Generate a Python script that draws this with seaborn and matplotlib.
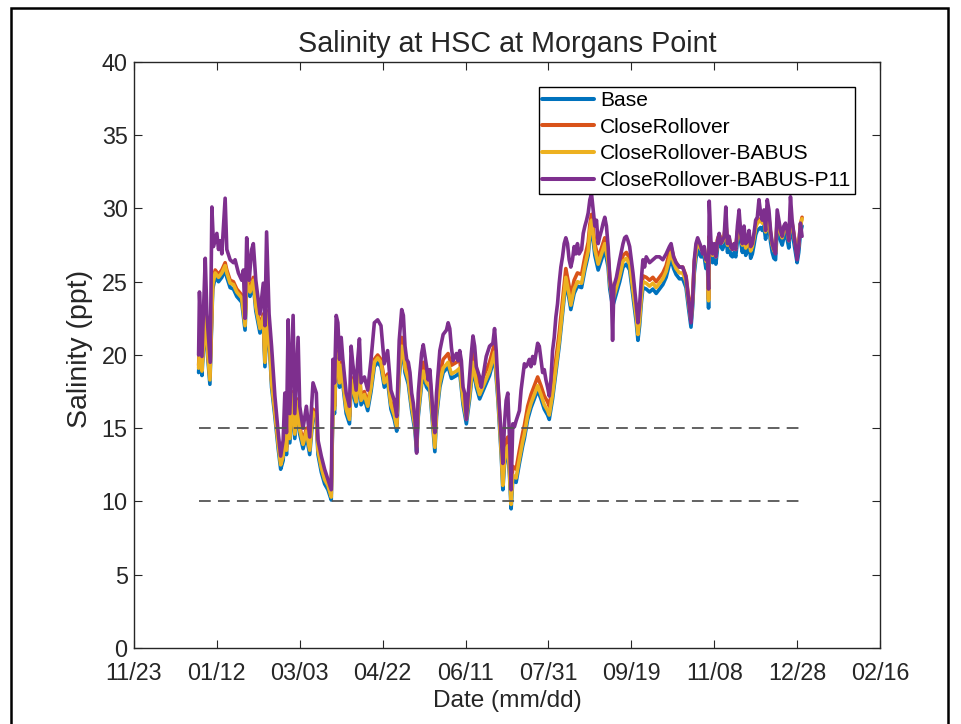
import pandas as pd
import matplotlib
matplotlib.use("Agg")
import matplotlib.pyplot as plt
import matplotlib.dates as mdates
from matplotlib.lines import Line2D
from matplotlib.patches import Rectangle
from matplotlib import font_manager
import seaborn as sns

# Day-of-year (0 = Jan 1) and salinity (ppt) for each scenario
base_pts = [
    (0, 18.8), (1, 21.0), (2, 18.6), (4, 22.8), (5, 20.5), (6.8, 18.0), (8.5, 24.5), (10, 25.3),
    (12, 25.0), (14, 25.3), (16, 25.8), (17, 25.3), (19, 24.6), (21, 24.5), (23, 24.0), (26, 23.6),
    (28, 21.7), (29, 24.7), (31, 24.0), (33, 24.8), (34.5, 23.0), (37, 21.5), (39, 22.3), (40, 19.2),
    (41.5, 22.5), (43, 20.0), (44, 17.8), (46, 15.8), (48, 13.6), (49.5, 12.2), (51, 12.8), (52, 14.8),
    (53, 13.2), (54, 16.5), (55, 14.0), (57, 17.0), (58, 14.3), (60, 16.5), (61, 14.6), (63, 13.6),
    (65, 14.5), (67, 13.2), (69, 15.8), (71, 15.5), (72, 13.2), (74, 12.0), (76, 11.2), (78, 10.8),
    (80, 10.1), (81, 16.5), (82, 16.0), (83, 19.8), (84, 19.6), (85, 17.8), (86, 19.0), (87, 18.0),
    (89, 16.0), (91, 15.3), (92, 18.0), (93, 17.5), (95, 16.5), (96, 17.5), (97, 18.5), (98, 16.6),
    (100, 17.0), (102, 16.2), (104, 17.5), (106, 19.2), (108, 19.5), (110, 19.2), (112, 17.8), (114, 18.2),
    (116, 16.3), (118, 15.6), (119.5, 14.8), (121, 18.5), (122.5, 20.3), (123.5, 20.0), (124.5, 18.8), (126.5, 18.0),
    (128.5, 16.2), (130.5, 14.8), (131.5, 13.4), (132.5, 15.8), (134.5, 18.0), (135.5, 18.6), (137.5, 17.8), (139.5, 17.5),
    (141.5, 14.8), (142.5, 13.4), (143.5, 15.8), (145.5, 17.8), (147.5, 18.8), (150.5, 19.2), (152.5, 18.4), (155.5, 18.6),
    (157.5, 18.8), (159.5, 16.6), (161.5, 15.3), (163.5, 17.0), (165.5, 19.2), (167.5, 17.8), (169.5, 17.0), (172.5, 17.8),
    (175.5, 18.6), (178.5, 19.9), (180.5, 17.0), (182.5, 13.2), (183.5, 10.8), (184.5, 12.5), (185.5, 13.3), (186.5, 13.5),
    (187.5, 11.8), (188.5, 9.5), (189.5, 11.5), (191.5, 11.3), (193.5, 12.6), (195.5, 13.8), (196.5, 14.3), (198.5, 15.6),
    (200.5, 16.4), (202.5, 17.0), (204.5, 17.6), (206.5, 17.0), (208.5, 16.3), (210.5, 15.9), (211.5, 15.6), (213.5, 17.0),
    (215.5, 18.8), (217.5, 20.6), (219.5, 22.8), (221.5, 25.0), (223.5, 23.8), (224.5, 23.1), (226.5, 24.2), (228.5, 24.7),
    (231, 24.6), (233, 25.8), (235, 26.8), (236, 28.1), (237, 28.8), (239, 26.8), (241, 25.8), (243, 26.5),
    (245, 27.2), (247, 26.0), (248, 24.5), (249.7, 23.3), (250.5, 23.6), (252, 24.2), (254, 25.0), (256, 26.0),
    (258, 26.2), (260, 25.8), (262, 24.0), (264, 22.2), (265, 21.0), (266, 22.0), (267, 23.5), (268, 24.6),
    (270, 24.5), (272, 24.3), (274, 24.5), (276, 24.2), (278, 24.5), (280, 24.8), (282, 25.3), (284, 26.2),
    (285, 26.6), (286.5, 25.9), (288, 25.5), (290, 25.2), (292, 25.2), (294, 24.6), (295.5, 23.2), (297, 21.9),
    (298, 23.3), (299, 25.6), (300, 26.6), (301, 27.2), (303, 26.7), (305, 26.7), (306, 25.9), (307, 26.0),
    (307.6, 23.2), (308, 27.5), (309, 27.0), (310, 26.3), (311, 26.8), (312, 26.2), (313, 27.3), (314, 27.6),
    (316, 27.2), (317, 27.5), (318, 28.5), (319, 27.0), (320, 27.4), (321, 26.8), (322, 26.7), (323, 27.0),
    (324, 26.7), (325, 27.8), (326, 28.6), (327, 27.7), (328, 27.0), (329, 27.9), (330, 26.8), (331, 27.1),
    (332, 27.6), (333, 26.6), (334, 26.9), (335, 27.5), (336, 28.2), (337, 28.5), (338, 28.6), (339, 28.7),
    (340, 28.5), (341, 28.8), (342, 27.9), (343, 28.8), (344, 28.8), (345, 27.7), (346, 27.0), (347, 26.6),
    (348, 26.5), (349, 28.7), (350, 28.4), (351, 27.8), (352, 27.5), (353, 28.0), (354, 28.3), (355, 27.9),
    (356, 27.3), (357, 28.8), (358, 28.4), (359, 27.7), (360, 27.0), (361, 26.3), (362, 27.0), (363, 28.3),
    (364, 28.8),
]

rollover_pts = [
    (0, 19.3), (1, 21.5), (2, 19.1), (4, 23.3), (5, 21.0), (6.8, 18.5), (8.5, 25.0), (10, 25.8),
    (12, 25.5), (14, 25.8), (16, 26.3), (17, 25.8), (19, 25.1), (21, 25.0), (23, 24.5), (26, 24.1),
    (28, 22.2), (29, 25.2), (31, 24.5), (33, 25.3), (34.5, 23.5), (37, 22.0), (39, 22.8), (40, 19.7),
    (41.5, 23.0), (43, 20.5), (44, 18.3), (46, 16.3), (48, 14.1), (49.5, 12.7), (51, 13.3), (52, 15.3),
    (53, 13.7), (54, 17.0), (55, 14.5), (57, 17.5), (58, 14.8), (60, 17.0), (61, 15.1), (63, 14.1),
    (65, 15.0), (67, 13.7), (69, 16.3), (71, 16.0), (72, 13.7), (74, 12.5), (76, 11.7), (78, 11.3),
    (80, 10.5), (81, 17.0), (82, 16.5), (83, 20.3), (84, 20.1), (85, 18.3), (86, 19.5), (87, 18.5),
    (89, 16.5), (91, 15.8), (92, 18.5), (93, 18.0), (95, 17.0), (96, 18.0), (97, 19.0), (98, 17.1),
    (100, 17.5), (102, 16.7), (104, 18.0), (106, 19.7), (108, 20.0), (110, 19.7), (112, 18.3), (114, 18.7),
    (116, 16.8), (118, 16.1), (119.5, 15.3), (121, 19.4), (122.5, 21.2), (123.5, 20.9), (124.5, 19.7), (126.5, 18.9),
    (128.5, 17.1), (130.5, 15.7), (131.5, 14.3), (132.5, 16.7), (134.5, 18.9), (135.5, 19.5), (137.5, 18.7), (139.5, 18.4),
    (141.5, 15.7), (142.5, 14.3), (143.5, 16.7), (145.5, 18.7), (147.5, 19.7), (150.5, 20.1), (152.5, 19.3), (155.5, 19.5),
    (157.5, 19.7), (159.5, 17.5), (161.5, 16.2), (163.5, 17.9), (165.5, 20.1), (167.5, 18.7), (169.5, 17.9), (172.5, 18.7),
    (175.5, 19.5), (178.5, 20.8), (180.5, 17.9), (182.5, 14.1), (183.5, 11.7), (184.5, 13.4), (185.5, 14.2), (186.5, 14.4),
    (187.5, 12.7), (188.5, 10.4), (189.5, 12.4), (191.5, 12.2), (193.5, 13.5), (195.5, 14.7), (196.5, 15.2), (198.5, 16.5),
    (200.5, 17.3), (202.5, 17.9), (204.5, 18.5), (206.5, 17.9), (208.5, 17.2), (210.5, 16.8), (211.5, 16.5), (213.5, 17.9),
    (215.5, 19.7), (217.5, 21.5), (219.5, 23.7), (221.5, 25.9), (223.5, 24.7), (224.5, 24.0), (226.5, 25.1), (228.5, 25.6),
    (231, 25.5), (233, 26.7), (235, 27.7), (236, 28.9), (237, 29.6), (239, 27.6), (241, 26.6), (243, 27.3),
    (245, 28.0), (247, 26.8), (248, 25.3), (249.7, 24.1), (250.5, 24.4), (252, 25.0), (254, 25.8), (256, 26.8),
    (258, 27.0), (260, 26.6), (262, 24.8), (264, 23.0), (265, 21.8), (266, 22.8), (267, 24.3), (268, 25.4),
    (270, 25.3), (272, 25.1), (274, 25.3), (276, 25.0), (278, 25.3), (280, 25.6), (282, 26.1), (284, 27.0),
    (285, 27.4), (286.5, 26.7), (288, 26.3), (290, 26.0), (292, 26.0), (294, 25.4), (295.5, 24.0), (297, 22.7),
    (298, 24.1), (299, 26.4), (300, 27.2), (301, 27.8), (303, 27.3), (305, 27.3), (306, 26.5), (307, 26.6),
    (307.6, 23.8), (308, 28.1), (309, 27.6), (310, 26.9), (311, 27.4), (312, 26.8), (313, 27.9), (314, 28.2),
    (316, 27.8), (317, 28.1), (318, 29.1), (319, 27.6), (320, 28.0), (321, 27.4), (322, 27.3), (323, 27.6),
    (324, 27.3), (325, 28.4), (326, 29.2), (327, 28.3), (328, 27.6), (329, 28.5), (330, 27.4), (331, 27.7),
    (332, 28.2), (333, 27.2), (334, 27.5), (335, 28.1), (336, 28.8), (337, 29.1), (338, 29.2), (339, 29.3),
    (340, 29.1), (341, 29.4), (342, 28.5), (343, 29.4), (344, 29.4), (345, 28.3), (346, 27.6), (347, 27.2),
    (348, 27.1), (349, 29.3), (350, 29.0), (351, 28.4), (352, 28.1), (353, 28.6), (354, 28.9), (355, 28.5),
    (356, 27.9), (357, 29.4), (358, 29.0), (359, 28.3), (360, 27.6), (361, 26.9), (362, 27.6), (363, 28.9),
    (364, 29.4),
]

babus_pts = [
    (0, 19.1), (1, 21.3), (2, 18.9), (4, 23.1), (5, 20.8), (6.8, 18.3), (8.5, 24.8), (10, 25.6),
    (12, 25.3), (14, 25.6), (16, 26.1), (17, 25.6), (19, 24.9), (21, 24.8), (23, 24.3), (26, 23.9),
    (28, 22.0), (29, 25.0), (31, 24.3), (33, 25.1), (34.5, 23.3), (37, 21.8), (39, 22.6), (40, 19.5),
    (41.5, 22.8), (43, 20.3), (44, 18.1), (46, 16.1), (48, 13.9), (49.5, 12.5), (51, 13.1), (52, 15.1),
    (53, 13.5), (54, 16.8), (55, 14.3), (57, 17.3), (58, 14.6), (60, 16.8), (61, 14.9), (63, 13.9),
    (65, 14.8), (67, 13.5), (69, 16.1), (71, 15.8), (72, 13.5), (74, 12.3), (76, 11.5), (78, 11.1),
    (80, 10.3), (81, 16.8), (82, 16.3), (83, 20.1), (84, 19.9), (85, 18.1), (86, 19.3), (87, 18.3),
    (89, 16.3), (91, 15.6), (92, 18.3), (93, 17.8), (95, 16.8), (96, 17.8), (97, 18.8), (98, 16.9),
    (100, 17.3), (102, 16.5), (104, 17.8), (106, 19.5), (108, 19.8), (110, 19.5), (112, 18.1), (114, 18.5),
    (116, 16.6), (118, 15.9), (119.5, 15.1), (121, 18.8), (122.5, 20.6), (123.5, 20.3), (124.5, 19.1), (126.5, 18.3),
    (128.5, 16.5), (130.5, 15.1), (131.5, 13.7), (132.5, 16.1), (134.5, 18.3), (135.5, 18.9), (137.5, 18.1), (139.5, 17.8),
    (141.5, 15.1), (142.5, 13.7), (143.5, 16.1), (145.5, 18.1), (147.5, 19.1), (150.5, 19.5), (152.5, 18.7), (155.5, 18.9),
    (157.5, 19.1), (159.5, 16.9), (161.5, 15.6), (163.5, 17.3), (165.5, 19.5), (167.5, 18.1), (169.5, 17.3), (172.5, 18.1),
    (175.5, 18.9), (178.5, 20.2), (180.5, 17.3), (182.5, 13.5), (183.5, 11.1), (184.5, 12.8), (185.5, 13.6), (186.5, 13.8),
    (187.5, 12.1), (188.5, 9.8), (189.5, 11.8), (191.5, 11.6), (193.5, 12.9), (195.5, 14.1), (196.5, 14.6), (198.5, 15.9),
    (200.5, 16.7), (202.5, 17.3), (204.5, 17.9), (206.5, 17.3), (208.5, 16.6), (210.5, 16.2), (211.5, 15.9), (213.5, 17.3),
    (215.5, 19.1), (217.5, 20.9), (219.5, 23.1), (221.5, 25.3), (223.5, 24.1), (224.5, 23.4), (226.5, 24.5), (228.5, 25.0),
    (231, 24.9), (233, 26.1), (235, 27.1), (236, 28.5), (237, 29.2), (239, 27.2), (241, 26.2), (243, 26.9),
    (245, 27.6), (247, 26.4), (248, 24.9), (249.7, 23.7), (250.5, 24.0), (252, 24.6), (254, 25.4), (256, 26.4),
    (258, 26.6), (260, 26.2), (262, 24.4), (264, 22.6), (265, 21.4), (266, 22.4), (267, 23.9), (268, 25.0),
    (270, 24.9), (272, 24.7), (274, 24.9), (276, 24.6), (278, 24.9), (280, 25.2), (282, 25.7), (284, 26.6),
    (285, 27.0), (286.5, 26.3), (288, 25.9), (290, 25.6), (292, 25.6), (294, 25.0), (295.5, 23.6), (297, 22.3),
    (298, 23.7), (299, 26.0), (300, 27.1), (301, 27.7), (303, 27.2), (305, 27.2), (306, 26.4), (307, 26.5),
    (307.6, 23.7), (308, 28.0), (309, 27.5), (310, 26.8), (311, 27.3), (312, 26.7), (313, 27.8), (314, 28.1),
    (316, 27.7), (317, 28.0), (318, 29.0), (319, 27.5), (320, 27.9), (321, 27.3), (322, 27.2), (323, 27.5),
    (324, 27.2), (325, 28.3), (326, 29.1), (327, 28.2), (328, 27.5), (329, 28.4), (330, 27.3), (331, 27.6),
    (332, 28.1), (333, 27.1), (334, 27.4), (335, 28.0), (336, 28.7), (337, 29.0), (338, 29.1), (339, 29.2),
    (340, 29.0), (341, 29.3), (342, 28.4), (343, 29.3), (344, 29.3), (345, 28.2), (346, 27.5), (347, 27.1),
    (348, 27.0), (349, 29.2), (350, 28.9), (351, 28.3), (352, 28.0), (353, 28.5), (354, 28.8), (355, 28.4),
    (356, 27.8), (357, 29.3), (358, 28.9), (359, 28.2), (360, 27.5), (361, 26.8), (362, 27.5), (363, 28.8),
    (364, 29.3),
]

p11_pts = [
    (0, 20.0), (0.5, 24.3), (2, 19.9), (4, 26.6), (5, 22.8), (7, 19.5), (8, 30.1), (9, 27.4),
    (11, 28.3), (12, 27.2), (13, 27.8), (14, 26.9), (16, 30.7), (17, 27.2), (19, 26.5), (21, 26.3),
    (22, 26.5), (24, 25.6), (26, 25.1), (27, 25.8), (28, 22.5), (29, 28.0), (30.5, 25.1), (32, 27.2),
    (33, 27.6), (34.5, 25.1), (37, 22.8), (39, 24.9), (40, 22.0), (41, 28.4), (42.5, 22.8), (44, 20.6),
    (46, 17.2), (48, 14.7), (49.5, 13.1), (51, 14.2), (52, 17.4), (53, 14.7), (54, 22.4), (55, 16.0),
    (57, 22.7), (58, 16.0), (60, 21.2), (61, 16.5), (63, 15.0), (65, 16.5), (67, 14.4), (69, 18.1),
    (71, 17.4), (72, 14.2), (74, 13.1), (76, 12.2), (78, 11.5), (80, 10.8), (81, 19.7), (82, 18.1),
    (83, 22.7), (84, 22.2), (85, 19.7), (86, 21.2), (87, 19.7), (89, 17.4), (91, 16.5), (92, 20.6),
    (93, 19.4), (95, 17.6), (96, 19.7), (97, 21.1), (98, 18.1), (100, 18.5), (102, 17.6), (104, 19.7),
    (106, 22.2), (108, 22.4), (110, 22.0), (112, 19.4), (114, 20.3), (116, 17.6), (118, 16.9), (119.5, 15.8),
    (121, 21.0), (122.5, 23.1), (123.5, 22.7), (124.5, 20.6), (125.5, 19.7), (126.5, 19.5), (127.5, 18.8), (128.5, 17.4),
    (129.5, 16.7), (130.5, 15.6), (131.5, 13.3), (132.5, 17.4), (133.5, 18.8), (134.5, 20.1), (135.5, 20.7), (137.5, 19.2),
    (138.5, 18.3), (139.5, 19.0), (140.5, 17.4), (141.5, 15.6), (142.5, 14.7), (143.5, 17.4), (145.5, 20.3), (147.5, 21.4),
    (149.5, 21.7), (150.5, 22.2), (151.5, 21.8), (152.5, 20.5), (153.5, 19.6), (155.5, 20.1), (156.5, 19.6), (157.5, 20.3),
    (158.5, 19.6), (159.5, 17.8), (160.5, 17.4), (161.5, 15.6), (163.5, 18.6), (164.5, 20.1), (165.5, 21.3), (166.5, 20.6),
    (167.5, 19.2), (169.5, 18.5), (170.5, 17.8), (172.5, 19.2), (173.5, 19.9), (175.5, 20.6), (177.5, 20.8), (178.5, 21.8),
    (179.5, 20.3), (180.5, 18.1), (181.5, 16.2), (182.5, 14.4), (183.5, 12.6), (184.5, 15.3), (185.5, 16.9), (186.5, 17.4),
    (187.5, 14.4), (188.5, 10.8), (189.5, 15.3), (190.5, 15.1), (191.5, 15.5), (193.5, 16.2), (194.5, 17.6), (195.5, 18.5),
    (196.5, 19.4), (197.5, 19.2), (198.5, 19.4), (199.5, 19.7), (200.5, 19.2), (201.5, 19.9), (202.5, 19.4), (203.5, 20.1),
    (204.5, 20.8), (205.5, 20.6), (206.5, 19.7), (207.5, 18.8), (208.5, 19.0), (209.5, 18.3), (210.5, 17.8), (211.5, 17.2),
    (212.5, 18.3), (213.5, 20.3), (214.5, 21.2), (215.5, 22.6), (216.5, 23.5), (217.5, 24.9), (218.5, 26.0), (219.5, 26.7),
    (220.5, 27.6), (221.5, 28.0), (222.5, 27.6), (223.5, 26.5), (224.5, 26.0), (225.5, 26.5), (226.5, 27.4), (227.5, 26.9),
    (228.5, 27.6), (229.5, 26.9), (231, 27.2), (232, 28.3), (233, 28.8), (234, 29.2), (235, 29.7), (236, 30.6),
    (237, 31.0), (238, 29.9), (239, 28.8), (240, 29.2), (241, 27.6), (242, 28.1), (243, 28.5), (244, 29.0),
    (245, 29.4), (246, 28.8), (247, 27.4), (248, 25.3), (249, 24.2), (249.7, 21.0), (250.5, 24.7), (252, 25.3),
    (254, 26.5), (256, 27.6), (257, 28.0), (258, 28.1), (259, 27.8), (260, 27.4), (261, 26.5), (262, 25.6),
    (263, 24.5), (264, 23.4), (265, 22.2), (266, 23.4), (267, 25.1), (268, 26.5), (269, 26.0), (270, 26.7),
    (272, 26.3), (274, 26.5), (276, 26.7), (278, 26.7), (280, 26.5), (282, 26.9), (284, 27.4), (285, 27.6),
    (286.5, 26.7), (288, 26.3), (290, 26.0), (292, 26.0), (294, 25.3), (295.5, 23.8), (297, 22.2), (298, 23.8),
    (299, 26.5), (300, 27.6), (301, 28.0), (303, 27.4), (304, 26.9), (305, 27.4), (306, 26.5), (307, 26.7),
    (307.6, 24.5), (308, 30.5), (309, 27.8), (310, 26.9), (311, 27.6), (312, 26.7), (313, 27.8), (314, 28.3),
    (315, 27.6), (316, 27.8), (317, 28.1), (318, 30.1), (319, 27.6), (320, 28.1), (321, 27.4), (322, 27.2),
    (323, 27.6), (324, 27.2), (325, 28.8), (326, 29.9), (327, 28.3), (328, 27.6), (329, 28.8), (330, 27.6),
    (331, 27.8), (332, 28.5), (333, 27.4), (334, 27.6), (335, 28.3), (336, 29.2), (337, 29.4), (338, 30.6),
    (339, 29.7), (340, 29.2), (341, 29.9), (342, 28.5), (343, 30.6), (344, 29.9), (345, 28.5), (346, 27.6),
    (347, 27.2), (348, 26.9), (349, 29.9), (350, 29.2), (351, 28.5), (352, 28.1), (353, 28.8), (354, 29.0),
    (355, 28.5), (356, 27.8), (357, 30.8), (358, 29.2), (359, 28.3), (360, 27.4), (361, 26.5), (362, 27.4),
    (363, 29.0), (364, 28.1),
]

series_names = ["Base", "CloseRollover", "CloseRollover-BABUS", "CloseRollover-BABUS-P11"]
series_colors = ["#0072BD", "#D95319", "#EDB120", "#7E2F8E"]
threshold_levels = [15, 10]
year_start = pd.Timestamp("2017-01-01")
x_first_tick = pd.Timestamp("2016-11-23")
y_ticks = [0, 5, 10, 15, 20, 25, 30, 35, 40]

# long-form table for seaborn
records = []
for name, pts in zip(series_names, [base_pts, rollover_pts, babus_pts, p11_pts]):
    for day, val in pts:
        records.append({"date": year_start + pd.Timedelta(days=day), "salinity": val, "scenario": name})
df = pd.DataFrame(records)

sns.set_theme(style="ticks")
names = {f.name for f in font_manager.fontManager.ttflist}
font = "Liberation Sans" if "Liberation Sans" in names else "DejaVu Sans"
plt.rcParams["font.family"] = [font, "DejaVu Sans"]

ink = "#262626"
fig = plt.figure(figsize=(9.61, 7.24), dpi=100)
ax = fig.add_axes([0.1394, 0.105, 0.7763, 0.8094])

sns.lineplot(data=df, x="date", y="salinity", hue="scenario", hue_order=series_names,
             palette=dict(zip(series_names, series_colors)), estimator=None, sort=False,
             linewidth=2.6, legend=False, ax=ax)

d0 = df["date"].min()
d1 = df["date"].max()
ax.hlines(threshold_levels, d0, d1, colors="#555555", linewidth=1.3,
          linestyles=(0, (6.5, 4)), zorder=3)

x_ticks = pd.date_range(x_first_tick, periods=10, freq="50D")
ax.set_xticks(x_ticks)
ax.xaxis.set_major_formatter(mdates.DateFormatter("%m/%d"))
ax.set_xlim(x_ticks[0], x_ticks[-1])
ax.set_ylim(0, 40)
ax.set_yticks(y_ticks)

ax.tick_params(direction="in", length=5.5, width=0.8, top=True, right=True,
               labelsize=16.8, colors=ink)
ax.tick_params(axis="x", pad=10)
ax.tick_params(axis="y", pad=4.5)
for side in ["left", "right", "top", "bottom"]:
    ax.spines[side].set_visible(True)
    ax.spines[side].set_color(ink)
    ax.spines[side].set_linewidth(1.0)

ax.set_xlabel("Date (mm/dd)", fontsize=17.6, color=ink, labelpad=3.5)
ax.set_ylabel("Salinity (ppt)", fontsize=20.5, color=ink)
ax.yaxis.set_label_coords(-0.055, 0.51)
ax.set_title("Salinity at HSC at Morgans Point", fontsize=20.7, color=ink, pad=7)

handles = [Line2D([0], [0], color=c, linewidth=2.9) for c in series_colors]
leg = ax.legend(handles, series_names, loc="upper right", bbox_to_anchor=(0.9665, 0.957),
                borderaxespad=0, fontsize=15.1, frameon=True, fancybox=False,
                handlelength=2.45, handletextpad=0.3, labelspacing=0.37, borderpad=0.18)
leg.get_frame().set_edgecolor("black")
leg.get_frame().set_linewidth(1.0)
leg.get_frame().set_alpha(1)
for txt in leg.get_texts():
    txt.set_color("black")

fig.add_artist(Rectangle((11 / 961, -0.02), (948 - 11) / 961, 1.02 - 8 / 724,
                         transform=fig.transFigure, fill=False, edgecolor="black", linewidth=1.8))

fig.savefig("out.png", dpi=100)
